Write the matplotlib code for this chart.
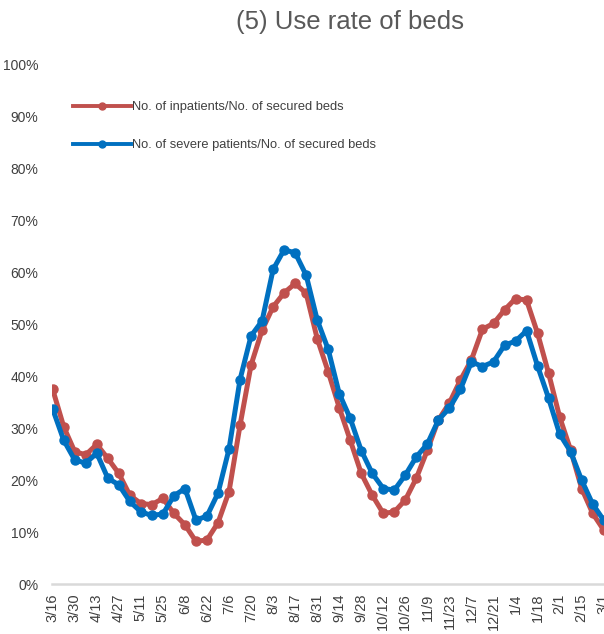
import matplotlib
matplotlib.use("Agg")
import matplotlib.pyplot as plt
from matplotlib.lines import Line2D

plt.rcParams['font.family'] = ['Liberation Sans', 'DejaVu Sans']

weeks = ["3/16", "3/23", "3/30", "4/6", "4/13", "4/20", "4/27", "5/4", "5/11", "5/18",
         "5/25", "6/1", "6/8", "6/15", "6/22", "6/29", "7/6", "7/13", "7/20", "7/27",
         "8/3", "8/10", "8/17", "8/24", "8/31", "9/7", "9/14", "9/21", "9/28", "10/5",
         "10/12", "10/19", "10/26", "11/2", "11/9", "11/16", "11/23", "11/30", "12/7", "12/14",
         "12/21", "12/28", "1/4", "1/11", "1/18", "1/25", "2/1", "2/8", "2/15", "2/22", "3/1"]

inpatients = [37.5, 30.3, 25.5, 24.9, 26.9, 24.2, 21.3, 17.1, 15.5, 15.3,
              16.5, 13.6, 11.4, 8.2, 8.5, 11.8, 17.8, 30.6, 42.2, 48.9,
              53.4, 56.1, 57.9, 56.0, 47.3, 40.9, 34.0, 27.7, 21.3, 17.1,
              13.6, 13.9, 16.2, 20.4, 25.8, 31.6, 34.9, 39.3, 43.2, 49.1,
              50.2, 52.8, 55.0, 54.7, 48.3, 40.6, 32.2, 25.8, 18.4, 13.6, 10.4]

severe = [33.7, 27.7, 23.9, 23.3, 25.2, 20.4, 19.1, 15.9, 13.9, 13.2,
          13.5, 17.0, 18.4, 12.3, 13.1, 17.5, 26.0, 39.4, 47.8, 50.7,
          60.6, 64.4, 63.8, 59.5, 50.9, 45.2, 36.7, 31.9, 25.7, 21.3,
          18.4, 18.1, 21.0, 24.5, 27.0, 31.6, 33.9, 37.5, 42.8, 41.9,
          42.8, 46.0, 46.8, 48.8, 42.0, 35.8, 28.9, 25.5, 20.0, 15.4, 12.3]

yticks = [0, 10, 20, 30, 40, 50, 60, 70, 80, 90, 100]
ytick_labels = [f"{v}%" for v in yticks]

series_labels = ["No. of inpatients/No. of secured beds",
                 "No. of severe patients/No. of secured beds"]
red = "#C0504D"
blue = "#0070C0"

W, H = 604, 634
fig = plt.figure(figsize=(W / 100, H / 100), dpi=100)

x0_px = 51.6
step = 11.02
first_px = 52.7
xl, xr = -0.1, 50.5
right_px = first_px + step * xr
ax = fig.add_axes([x0_px / W, 50 / H, (right_px - x0_px) / W, 519 / H])

x = list(range(len(weeks)))
ax.plot(x, inpatients, color=red, lw=3.6, marker='o', ms=6.5, solid_joinstyle='round', zorder=3)
ax.plot(x, severe, color=blue, lw=3.6, marker='o', ms=6.5, solid_joinstyle='round', zorder=4)

ax.set_xlim(xl, xr)
ax.set_ylim(0, 100)
ax.set_yticks(yticks)
ax.set_yticklabels(ytick_labels, fontsize=10, color="#404040")
ax.set_xticks(x[::2])
ax.set_xticklabels(weeks[::2], rotation=90, fontsize=10.5, color="#404040")
ax.tick_params(axis='both', length=0)
ax.tick_params(axis='y', pad=9.5)
ax.tick_params(axis='x', pad=7)
for s in ['top', 'right', 'left']:
    ax.spines[s].set_visible(False)
ax.spines['bottom'].set_color("#D9D9D9")
ax.spines['bottom'].set_linewidth(1.8)

handles = [Line2D([], [], color=red, lw=2.8, marker='o', ms=5),
           Line2D([], [], color=blue, lw=2.8, marker='o', ms=5)]
ax.legend(handles, series_labels, loc='upper left', bbox_to_anchor=(0.038, 0.930),
          frameon=False, fontsize=9.3, handlelength=4.5, handletextpad=0.1,
          labelspacing=2.0, borderpad=0, borderaxespad=0, labelcolor="#404040")

fig.text(350 / W, 1 - 22 / H, "(5) Use rate of beds", fontsize=18.5, color="#595959",
         ha='center', va='center')

fig.savefig("out.png", dpi=100)
